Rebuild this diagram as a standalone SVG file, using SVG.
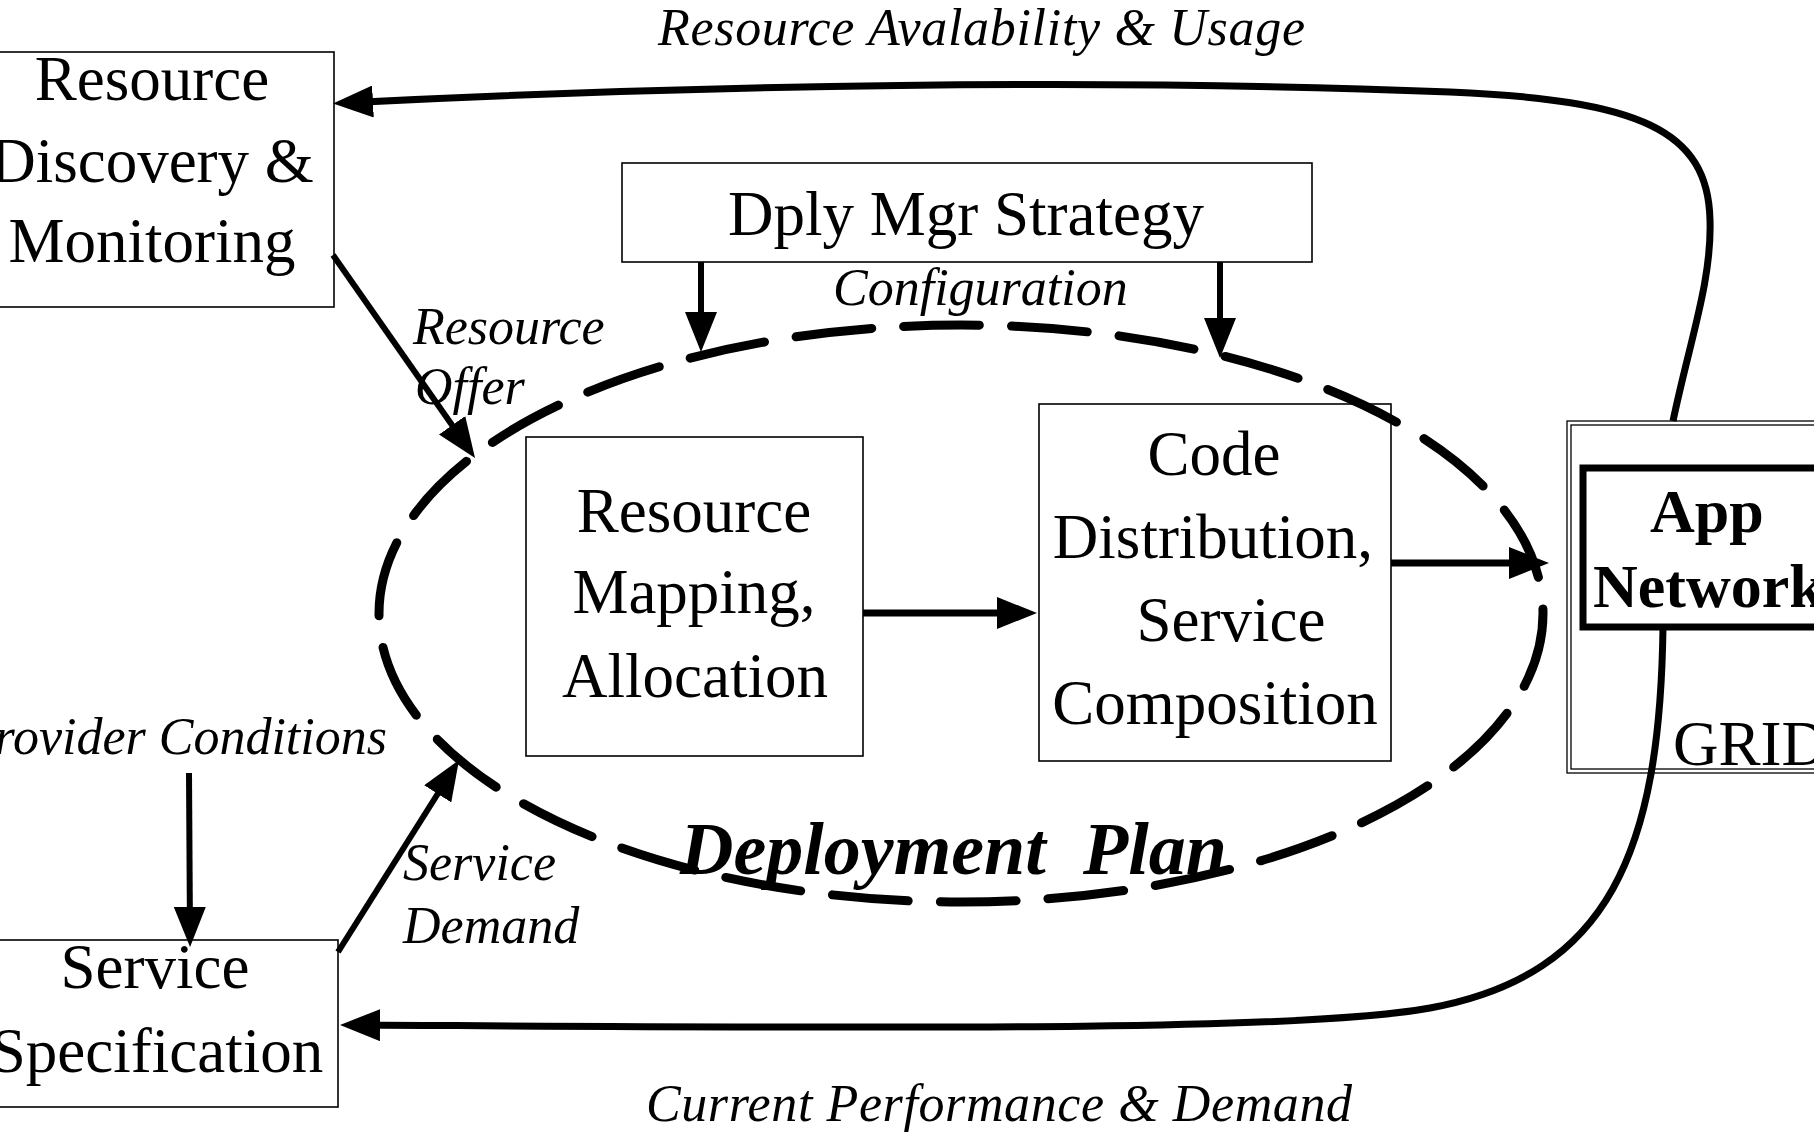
<svg xmlns="http://www.w3.org/2000/svg" width="1814" height="1133" viewBox="0 0 1814 1133">
<style>
.box{fill:none;stroke:#000;stroke-width:1.6}
.t{font-family:'Liberation Serif','Times New Roman',serif;font-size:63px;text-anchor:middle;fill:#000}
.tb{font-family:'Liberation Serif','Times New Roman',serif;font-size:62px;font-weight:bold;fill:#000}
.lbl{font-family:'Liberation Serif','Times New Roman',serif;font-size:52px;font-style:italic;fill:#000}
.dp{font-family:'Liberation Serif','Times New Roman',serif;font-size:74px;font-style:italic;font-weight:bold;fill:#000}
.c{fill:none;stroke:#000;stroke-width:6;marker-end:url(#ah)}
.cw{stroke-width:7}
</style>
<defs>
<marker id="ah" markerUnits="userSpaceOnUse" markerWidth="40" markerHeight="32" refX="30" refY="16" orient="auto" viewBox="0 0 40 32"><path d="M0,0 L40,16 L0,32 z" fill="#000"/></marker>
</defs>
<rect width="1814" height="1133" fill="#fff"/>

<g id="resource-discovery">
<rect class="box" x="-20" y="52" width="354" height="255"/>
<text class="t" x="152" y="100">Resource</text>
<text class="t" x="152" y="182">Discovery &amp;</text>
<text class="t" x="152" y="262">Monitoring</text>
</g>

<g id="service-specification">
<rect class="box" x="-20" y="940" width="358" height="167"/>
<text class="t" x="155" y="988">Service</text>
<text class="t" x="157" y="1072">Specification</text>
</g>

<g id="dply-mgr-strategy">
<rect class="box" x="622" y="163" width="690" height="99"/>
<text class="t" x="966" y="235">Dply Mgr Strategy</text>
</g>

<g id="resource-mapping">
<rect class="box" x="526" y="437" width="337" height="319"/>
<text class="t" x="694" y="532">Resource</text>
<text class="t" x="694" y="613">Mapping,</text>
<text class="t" x="695" y="697">Allocation</text>
</g>

<g id="code-distribution">
<rect class="box" x="1039" y="404" width="352" height="357"/>
<text class="t" x="1214" y="475">Code</text>
<text class="t" x="1213" y="558">Distribution,</text>
<text class="t" x="1231" y="641">Service</text>
<text class="t" x="1215" y="724">Composition</text>
</g>

<g id="grid">
<rect x="1567" y="421" width="300" height="352" fill="none" stroke="#000" stroke-width="1.3"/>
<rect x="1571" y="425" width="300" height="344" fill="none" stroke="#000" stroke-width="1.3"/>
<text class="t" x="1673" y="765" style="text-anchor:start">GRID</text>
</g>

<g id="app-network">
<rect x="1583" y="468" width="300" height="159" fill="none" stroke="#000" stroke-width="7"/>
<text class="tb" x="1650" y="532">App</text>
<text class="tb" x="1593" y="607">Network</text>
</g>

<g id="deployment-plan">
<ellipse cx="961" cy="613.5" rx="582" ry="288.5" fill="none" stroke="#000" stroke-width="9" stroke-dasharray="76 32" stroke-linecap="round"/>
<text class="dp" y="874"><tspan x="680">Deployment</tspan><tspan x="1083">Plan</tspan></text>
</g>

<g id="connectors">
<path class="c cw" d="M1673,421 C1690,340 1712,280 1710,220 C1708,130 1640,100 1450,92 C1100,78 700,85 343,103"/>
<path class="c cw" d="M1663,627 C1660,850 1610,975 1430,1008 C1300,1032 900,1028 350,1025"/>
<path class="c" d="M701,262 L701,342"/>
<path class="c" d="M1220,262 L1220,348"/>
<path class="c" d="M333,255 L469.3,449.8"/>
<path class="c" d="M338,952 L453.7,768.5"/>
<path class="c" d="M189,773 L190,937"/>
<path class="c cw" d="M863,613 L1027,613"/>
<path class="c cw" d="M1391,563 L1539,563"/>
</g>

<g id="labels">
<text class="lbl" x="658" y="45" textLength="647">Resource Avalability &amp; Usage</text>
<text class="lbl" x="833" y="305">Configuration</text>
<text class="lbl" x="413" y="344">Resource</text>
<text class="lbl" x="415" y="404">Offer</text>
<text class="lbl" x="387" y="754" style="text-anchor:end">Provider Conditions</text>
<text class="lbl" x="403" y="880">Service</text>
<text class="lbl" x="403" y="943">Demand</text>
<text class="lbl" x="646" y="1121" textLength="706">Current Performance &amp; Demand</text>
</g>
</svg>
